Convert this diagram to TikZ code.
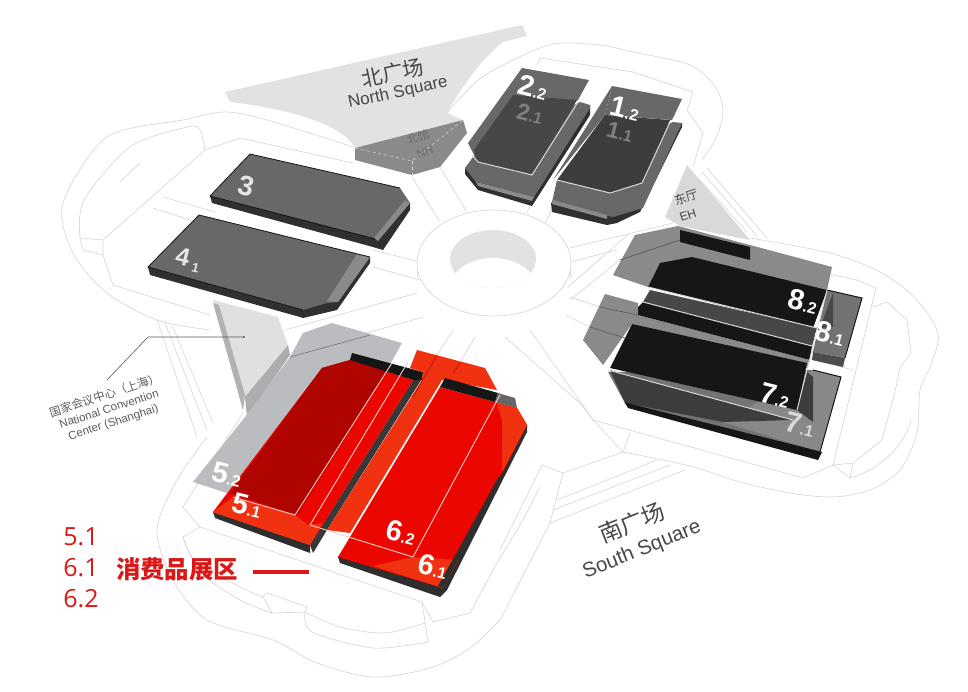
\documentclass[tikz,border=0pt]{standalone}
\usepackage{fontspec}
\setmainfont{Liberation Sans}
\newfontfamily\cjk{Noto Sans CJK SC}
\newfontfamily\legendfont{Open Sans}
\usetikzlibrary{positioning,calc}
\definecolor{SiteGray}{RGB}{214,214,214}
\definecolor{SquareGray}{RGB}{226,226,226}
\definecolor{GlassGray}{RGB}{186,188,192}
\definecolor{HallGray}{RGB}{104,104,104}
\definecolor{HallEdge}{RGB}{48,48,48}
\definecolor{FloorGray}{RGB}{138,138,138}
\definecolor{NightBlack}{RGB}{22,22,22}
\definecolor{HallRed}{RGB}{236,6,0}
\definecolor{DeepRed}{RGB}{176,4,0}
\definecolor{FlameRed}{RGB}{240,50,16}
\definecolor{LegendRed}{RGB}{218,24,24}
\tikzset{
	site/.style={draw=SiteGray,line width=0.65pt},
	hallnum/.style={text=white,font=\bfseries\fontsize{29}{29}\selectfont,inner sep=0pt,rotate=-14},
	faintnum/.style={hallnum,text=white!50!black,font=\bfseries\fontsize{23}{23}\selectfont},
	signtext/.style={text=black!72,inner sep=0pt,align=center},
	legendno/.style={inner sep=0pt,text=LegendRed,font=\legendfont\fontsize{25}{25}\selectfont},
}
\newcommand{\subno}[1]{{\fontsize{16}{16}\selectfont.#1}}
\begin{document}
\begin{tikzpicture}[x=1pt,y=-1pt]
	\useasboundingbox (0,0) rectangle (968,691);
	% site outlines
	\draw[site] plot[smooth] coordinates {(447,113) (476,82) (507,63) (553,44) (600,45) (633,52) (690,65) (716,88) (723,112) (716,138) (702,160)};
	\draw[site] (537,65)--(540,58)--(633,72)--(693,92)--(687,110)--(703,133)--(693,167);
	\foreach \x/\y/\u/\v in {707/168/767/238,702/172/757/236,698/178/747/232}
	\draw[site] (\x,\y)--(\u,\v);
	\draw[site] plot[smooth] coordinates {(750,238) (830,253) (880,272) (915,298) (938,333) (931,365) (920,390) (917,433) (900,470) (870,490) (833,497) (790,493) (740,482) (690,466) (623,452)};
	\draw[site] (750,257)--(857,280)--(876,288)--(833,465)--(803,478)--(593,420)--(580,403);
	\draw[site] (593,420)--(623,452)--(630,433);
	\draw[site] (873,307)--(887,302)--(907,320)--(911,353)--(900,367)--(895,392)--(882,440)--(853,463)--(833,465);
	\draw[site] (853,463)--(850,478)--(833,465);
	\draw[site] (850,478) .. controls (880,470) and (905,445) .. (911,420);
	\draw[site] (853,370)--(815,360);
	\draw[site] (840,390)--(815,384);
	\draw[site] (623,452)--(563,473)--(542,465)--(500,550);
	\draw[site] (563,473)--(550,523)--(500,620);
	\foreach \x/\y/\u/\v in {557/500/657/460,553/510/670/465,550/523/685/470}
	\draw[site] (\x,\y)--(\u,\v);
	\draw[site] plot[smooth] coordinates {(500,620) (470,648) (430,668) (373,677) (317,663) (273,640) (207,620) (173,580) (157,530) (177,480) (207,437)};
	\draw[site] plot[smooth] coordinates {(540,487) (520,525) (497,563) (470,613)};
	\draw[site] (470,613)--(433,622)--(422,602)--(200,527)--(183,537);
	\draw[site] plot[smooth] coordinates {(183,537) (197,563) (240,587) (263,597)};
	\draw[site] (263,597)--(267,593)--(307,607)--(305,612)--(272,613)--(263,597);
	\draw[site] plot[smooth] coordinates {(305,612) (340,627) (385,633) (425,623)};
	\draw[site] (422,602)--(428,642);
	\draw[site] plot[smooth] coordinates {(305,612) (312,632) (373,648) (428,642)};
	\draw[site] plot[smooth] coordinates {(183,537) (200,572) (240,600) (272,613)};
	\draw[site] (243,413)--(183,507)--(200,527);
	\draw[site] plot[smooth] coordinates {(353,147) (267,120) (225,112) (183,120) (107,137) (63,203) (73,253) (107,293) (157,320) (210,330)};
	\draw[site] (353,163)--(240,138)--(205,150)--(103,240)--(80,238);
	\draw[site] plot[smooth] coordinates {(80,238) (84,200) (130,147) (187,127) (200,130) (205,150)};
	\draw[site] (140,163)--(120,182);
	\draw[site] (80,238)--(83,250)--(103,255)--(103,240);
	\draw[site] (103,255)--(113,285)--(210,315);
	\foreach \x/\y/\u/\v in {157/320/197/437,165/323/207/430,172/325/213/423}
	\draw[site] (\x,\y)--(\u,\v);
	% roads to the hub
	\foreach \x/\y/\u/\v in {163/197/215/212,153/208/190/220,373/250/420/262,373/267/420/280,285/330/417/293,290/355/423/317,
		453/330/415/390,475/337/460/363,505/337/580/403,530/330/593/420,568/287/630/233,570/300/620/260,570/297/600/307,565/315/590/327,
		412/177/440/222,440/167/467/212,530/205/527/213,553/207/545/223,673/223/570/248,617/250/570/262}
	\draw[site] (\x,\y)--(\u,\v);
	% squares
	\fill[SquareGray] (225,92)--(522,25)--(527,36)--(503,42) .. controls (480,60) and (460,90) .. (447,113)--(463,120)--(355,148) .. controls (345,128) and (300,110) .. (230,102)--cycle;
	% hub
	\fill[SquareGray] (417,263)--(417,284) arc[start angle=180,end angle=360,x radius=77,y radius=50]--(571,263)--cycle;
	\draw[site,fill=white] (494,263) ellipse[x radius=77,y radius=53];
	\fill[SquareGray] (493,259) ellipse[x radius=43,y radius=29];
	\begin{scope}
		\clip (493,259) ellipse[x radius=43,y radius=29];
		\fill[white] (493,288) ellipse[x radius=43,y radius=30];
	\end{scope}
	% north hall
	\fill[FloorGray] (355,148)--(463,120)--(467,133)--(440,167)--(412,175)--(355,160)--cycle;
	\draw[white!85!black,dashed,line width=0.5pt] (355,148)--(412,161)--(463,120);
	\draw[white!85!black,dashed,line width=0.5pt] (412,161)--(412,175);
	% halls 3 and 4
	\fill[HallEdge] (210,196)--(212,203)--(373,247)--(383,250)--(410,210)--(410,203)--cycle;
	\fill[HallGray] (250,154)--(400,188)--(410,203)--(377,239)--(210,196)--cycle;
	\fill[FloorGray] (405,200)--(410,203)--(378,241)--(374,238)--cycle;
	\draw[NightBlack,line width=0.8pt] (210,196)--(250,154)--(400,188);
	\draw[NightBlack,line width=0.8pt] (210,196)--(375,239);
	\fill[HallEdge] (148,267)--(150,275)--(300,317)--(303,318)--(337,310)--(370,263)--(370,257)--cycle;
	\fill[HallGray] (199,215)--(370,257)--(338,302)--(327,303)--(303,310)--(148,267)--cycle;
	\fill[FloorGray] (357,254)--(370,257)--(338,302)--(327,301)--cycle;
	\draw[NightBlack,line width=0.8pt] (303,310)--(148,267)--(199,215)--(370,257);
	% hall 2
	\fill[HallEdge] (465,168)--(465,174)--(478,190)--(532,206)--(590,115)--(590,105)--cycle;
	\fill[HallGray] (473,157)--(465,168)--(476,182)--(534,197)--(590,108)--(590,105)--(580,102)--cycle;
	\fill[FloorGray] (476,182)--(534,197)--(532,201)--(478,186)--cycle;
	\fill[HallGray] (522,68)--(589,80)--(578,100)--(478,163)--(468,143)--cycle;
	\fill[black!72] (513,95)--(577,100)--(532,175)--(477,162)--(474,150)--cycle;
	\draw[white!85!black,line width=1pt] (578,102)--(532,175)--(478,162)--(472,155);
	% hall 1
	\fill[HallEdge] (551,203)--(552,212)--(607,225)--(617,223)--(640,212)--(682,127)--(682,123)--cycle;
	\fill[HallGray] (557,180)--(552,202)--(613,217)--(643,208)--(682,123)--(673,122)--cycle;
	\fill[FloorGray] (553,200)--(607,215)--(607,219)--(552,204)--cycle;
	\fill[HallGray] (612,86)--(682,99)--(672,120)--(605,115)--cycle;
	\fill[HallGray] (612,86)--(605,115)--(553,180)--cycle;
	\fill[black!76] (605,115)--(670,120)--(642,183)--(610,193)--(557,180)--cycle;
	\draw[white!85!black,line width=1pt] (671,120)--(642,183)--(610,193)--(557,180);
	% east hall
	\fill[black!15] (687,165)--(735,222)--(750,240)--(680,226)--(665,217)--cycle;
	\fill[FloorGray] (635,235)--(678,226)--(750,245)--(832,267)--(827,290)--(648,287)--(613,275)--cycle;
	\fill[NightBlack] (680,230)--(750,247)--(750,260)--(680,242)--cycle;
	\draw[black!65,line width=0.7pt] (620,260)--(680,240);
	% band in front of hall 7
	\fill[FloorGray] (605,294)--(638,303)--(638,315)--(810,360)--(807,368)--(632,324)--(603,365)--(583,340)--cycle;
	\draw[black!65,line width=0.6pt] (600,307)--(638,315);
	\draw[black!65,line width=0.6pt] (590,327)--(625,338);
	% hall 8
	\fill[black!55] (827,290)--(862,298)--(845,358)--(813,352)--cycle;
	\fill[black!72] (833,293)--(833,327)--(820,328)--cycle;
	\fill[black!70] (813,352)--(812,360)--(843,367)--(845,358)--cycle;
	\draw[NightBlack,line width=1pt] (827,290)--(862,298)--(845,358);
	\fill[NightBlack] (660,263)--(692,257)--(827,290)--(813,328)--(648,287)--cycle;
	\fill[black!72] (650,290)--(817,328)--(812,346)--(643,302)--cycle;
	\fill[NightBlack] (643,302)--(812,346)--(810,360)--(638,315)--(638,307)--cycle;
	% hall 7
	\fill[black!55] (813,370)--(841,377)--(820,452)--(625,403)--(608,372)--cycle;
	\fill[NightBlack] (625,403)--(628,408)--(818,460)--(822,452)--cycle;
	\fill[black!38,opacity=0.5] (723,422)--(820,452)--(841,377)--(813,370)--cycle;
	\fill[black!76] (610,370)--(793,420)--(723,422)--(625,403)--cycle;
	\fill[black!76] (807,372)--(813,377)--(813,422)--(797,410)--cycle;
	\fill[NightBlack] (632,324)--(807,363)--(797,410)--(610,368)--cycle;
	\draw[NightBlack,line width=1pt] (813,370)--(841,377)--(820,452)--(625,403);
	\foreach \x/\y/\u/\v in {648/287/817/328,643/302/812/346,827/290/797/410,608/370/793/420}
	\draw[white!85!black,line width=1pt] (\x,\y)--(\u,\v);
	% national convention center
	\fill[black!12] (213,300)--(278,317)--(288,345)--(245,397)--(243,410)--cycle;
	\fill[black!30] (213,303)--(243,410)--(245,395)--(219,305)--cycle;
	\fill[black!32] (288,345)--(290,355)--(247,417)--(245,397)--cycle;
	% hall 5
	\fill[GlassGray] (332,323)--(402,343)--(388,368)--(230,494)--(193,482)--(245,417)--(290,357)--(303,333)--cycle;
	\draw[black!55,line width=0.6pt] (290,357)--(370,335);
	\fill[black!78] (423,377)--(327,530)--(313,553)--(310,545)--(413,380)--cycle;
	\fill[black!82] (213,512)--(215,518)--(310,553)--(310,545)--cycle;
	\fill[HallRed] (322,368)--(350,360)--(413,380)--(310,545)--(213,512)--cycle;
	\fill[DeepRed] (322,368)--(350,360)--(388,370)--(297,515)--(230,493)--cycle;
	\fill[FlameRed] (213,512)--(233,497)--(295,515)--(308,525)--(322,523)--(310,545)--cycle;
	\fill[NightBlack] (352,353)--(423,372)--(422,380)--(413,380)--(350,360)--cycle;
	% hall 6
	\fill[FlameRed] (417,350)--(485,368)--(497,390)--(442,380)--(350,533)--(327,530)--(422,380)--(423,372)--(410,368)--cycle;
	\fill[black!82] (338,557)--(340,563)--(440,597)--(447,590)--(527,432)--(527,425)--cycle;
	\fill[HallRed] (440,387)--(517,408)--(527,425)--(443,588)--(338,557)--cycle;
	\fill[FlameRed] (497,403)--(517,408)--(527,425)--(502,472)--(502,420)--cycle;
	\fill[FlameRed] (413,557)--(458,560)--(443,588)--(373,566)--cycle;
	\fill[black!82] (505,470)--(443,588)--(438,586)--(498,478)--cycle;
	\fill[NightBlack] (445,378)--(498,393)--(495,402)--(440,387)--cycle;
	\fill[black!60] (498,393)--(515,398)--(517,408)--(495,402)--cycle;
	\foreach \x/\y/\u/\v in {437/355/413/397,460/363/453/373}
	\draw[red!70!black,line width=0.5pt] (\x,\y)--(\u,\v);
	\foreach \x/\y/\u/\v in {392/363/295/515,295/515/233/497,408/362/310/525,310/525/413/557,413/557/500/395}
	\draw[white!80!red,line width=0.9pt] (\x,\y)--(\u,\v);
	% hall numbers
	\node[hallnum] (no22) at (533,87) {2\subno{2}};
	\node[faintnum] (no21) at (530,114) {2\subno{1}};
	\node[hallnum] (no12) at (625,108) {1\subno{2}};
	\node[faintnum] (no11) at (620,132) {1\subno{1}};
	\node[hallnum,text=white!90!black,font=\bfseries\fontsize{28}{28}\selectfont] (no3) at (246,186) {3};
	\node[hallnum,text=white!90!black,font=\bfseries\fontsize{25}{25}\selectfont] (no4) at (188,260) {4\,{\fontsize{13}{13}\selectfont\raisebox{-3pt}{1}}};
	\node[hallnum] (no52) at (227,475) {5\subno{2}};
	\node[hallnum] (no51) at (247,506) {5\subno{1}};
	\node[hallnum] (no62) at (401,532) {6\subno{2}};
	\node[hallnum] (no61) at (433,566) {6\subno{1}};
	\node[hallnum] (no82) at (803,301) {8\subno{2}};
	\node[hallnum] (no81) at (830,333) {8\subno{1}};
	\node[hallnum] (no72) at (775,395) {7\subno{2}};
	\node[hallnum,text=white!85!black] (no71) at (800,424) {7\subno{1}};
	% square and hall names
	\node[signtext,rotate=12,font=\cjk\fontsize{21}{21}\selectfont] (northcn) at (393,73) {北广场};
	\node[signtext,rotate=12,font=\fontsize{17}{17}\selectfont] (northen) at (398,93) {North Square};
	\node[signtext,rotate=22,font=\cjk\fontsize{23}{23}\selectfont] (southcn) at (632,523) {南广场};
	\node[signtext,rotate=22,font=\fontsize{20.5}{20.5}\selectfont] (southen) at (642,550) {South Square};
	\node[signtext,rotate=18,text=black!58,font=\cjk\fontsize{11.5}{11.5}\selectfont] (nhcn) at (418,137) {北馆};
	\node[signtext,rotate=18,text=black!58,font=\fontsize{11.5}{11.5}\selectfont] (nhen) at (425,152) {NH};
	\node[signtext,rotate=18,font=\cjk\fontsize{12}{12}\selectfont] (ehcn) at (686,197) {东厅};
	\node[signtext,rotate=18,font=\fontsize{12}{12}\selectfont] (ehen) at (688,215) {EH};
	% convention center label
	\node[signtext,rotate=18,text=black!65,font=\fontsize{11.5}{14}\selectfont] (ncclabel) at (109,409) {{\cjk 国家会议中心（上海）}\\National Convention\\Center (Shanghai)};
	\coordinate (nccpt) at (244,337);
	\coordinate (nccbend) at (148,337);
	\coordinate (nccend) at (107,380);
	\draw[black!65,line width=0.6pt] (nccpt)--(nccbend)--(nccend);
	\fill[black!65] (nccpt) circle (1.2);
	% legend
	\node[legendno] (l51) at (81,537) {5.1};
	\node[legendno,below=12pt of l51] (l61) {6.1};
	\node[legendno,below=12pt of l61] (l62) {6.2};
	\node[inner sep=0pt,text=LegendRed,font=\cjk\bfseries\fontsize{24.4}{24.4}\selectfont] (zone) at (177,569) {消费品展区};
	\coordinate (zonea) at (253,572);
	\coordinate (zoneb) at (309,572);
	\draw[LegendRed,line width=3.6pt] (zonea)--(zoneb);
\end{tikzpicture}
\end{document}
